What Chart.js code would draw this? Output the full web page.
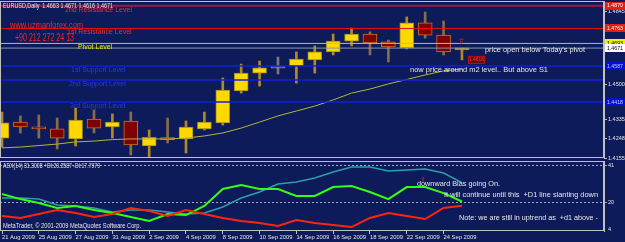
<!DOCTYPE html>
<html>
<head>
<meta charset="utf-8">
<script src="https://cdn.jsdelivr.net/npm/chart.js@4.4.0/dist/chart.umd.min.js"></script>
<style>
  html, body { margin: 0; padding: 0; background: #0e1b5a; }
  #wrap { position: relative; width: 625px; height: 242px; overflow: hidden; background: #0e1b5a; }
  #price { position: absolute; left: 0; top: 0; }
  #adx { position: absolute; left: 0; top: 160px; }
</style>
</head>
<body>
<div id="wrap">
  <canvas id="price" width="625" height="160"></canvas>
  <canvas id="adx" width="625" height="82"></canvas>
</div>
<script>
// EURUSD daily bars, 21 Aug - 25 Sep 2009
const dates = ["21 Aug 2009", "24 Aug 2009", "25 Aug 2009", "26 Aug 2009", "27 Aug 2009", "28 Aug 2009",
    "31 Aug 2009", "1 Sep 2009", "2 Sep 2009", "3 Sep 2009", "4 Sep 2009", "7 Sep 2009", "8 Sep 2009",
    "9 Sep 2009", "10 Sep 2009", "11 Sep 2009", "14 Sep 2009", "15 Sep 2009", "16 Sep 2009", "17 Sep 2009",
    "18 Sep 2009", "21 Sep 2009", "22 Sep 2009", "23 Sep 2009", "24 Sep 2009", "25 Sep 2009"];
const opens  = [1.4249, 1.4324, 1.4301, 1.4292, 1.4245, 1.4338, 1.4301, 1.4329, 1.4212, 1.4249, 1.4245, 1.4292, 1.4320,
    1.4470, 1.4554, 1.4578, 1.4587, 1.4615, 1.4653, 1.4704, 1.4737, 1.4700, 1.4672, 1.4789, 1.4732, 1.4663];
const highs  = [1.4371, 1.4353, 1.4357, 1.4343, 1.4390, 1.4381, 1.4362, 1.4371, 1.4287, 1.4343, 1.4329, 1.4371, 1.4531,
    1.4596, 1.4610, 1.4629, 1.4653, 1.4681, 1.4737, 1.4765, 1.4747, 1.4709, 1.4817, 1.4840, 1.4798, 1.4671];
const lows   = [1.4207, 1.4273, 1.4249, 1.4198, 1.4212, 1.4273, 1.4249, 1.4170, 1.4160, 1.4226, 1.4179, 1.4287, 1.4310,
    1.4460, 1.4493, 1.4550, 1.4507, 1.4554, 1.4639, 1.4681, 1.4639, 1.4606, 1.4667, 1.4718, 1.4639, 1.4616];
const closes = [1.4320, 1.4301, 1.4292, 1.4249, 1.4334, 1.4296, 1.4324, 1.4217, 1.4253, 1.4242, 1.4301, 1.4324, 1.4474,
    1.4554, 1.4578, 1.4577, 1.4620, 1.4653, 1.4704, 1.4737, 1.4695, 1.4676, 1.4789, 1.4732, 1.4653, 1.4671];
const movingAvg = [1.4203, 1.4207, 1.4214, 1.4221, 1.4231, 1.4235, 1.4242, 1.4245, 1.4245, 1.4245, 1.4249, 1.4259, 1.4273,
    1.4296, 1.4324, 1.4353, 1.4376, 1.4399, 1.4428, 1.4460, 1.4479, 1.4503, 1.4524, 1.4545, 1.4564, 1.4573];

// pivot levels drawn on the chart
const levelNames  = ["2nd Resistance Level", "1st Resistance Level", "Pivot Level",
    "1st Support Level", "2nd Support Level", "3rd Support Level"];
const levelValues = [1.4870, 1.4763, 1.4693, 1.4587, 1.4521, 1.4418];
const bidPrice = 1.4671;

// ADX(14) window
const adxValues = [22.3, 22.3, 21.7, 18.3, 17.7, 16.5, 14.2, 15.3, 15.3, 14.2, 13.0, 13.6, 17.1,
    22.3, 25.8, 30.5, 31.7, 34.0, 37.5, 40.4, 40.4, 38.1, 38.7, 39.2, 36.9, 31.3];
const plusDI  = [24.7, 21.7, 19.4, 16.5, 17.7, 15.3, 13.6, 11.3, 8.9, 13.0, 12.4, 17.7, 27.6,
    29.9, 27.6, 27.6, 23.5, 23.5, 28.7, 29.3, 25.8, 21.7, 28.7, 28.7, 25.2, 20.3];
const minusDI = [11.8, 10.7, 13.0, 15.3, 13.6, 11.3, 13.0, 16.5, 14.8, 11.8, 15.3, 13.0, 10.7,
    8.9, 7.8, 6.0, 9.5, 7.8, 6.6, 5.4, 10.7, 13.6, 11.8, 10.1, 16.5, 17.8];

// axis labels
const priceTicks = [1.4155, 1.4248, 1.4335, 1.4420, 1.4500, 1.4590, 1.4675, 1.4760, 1.4845];
const adxTicks = [4, 20, 41];
const dateLabels = ["21 Aug 2009", "25 Aug 2009", "27 Aug 2009", "31 Aug 2009", "2 Sep 2009", "4 Sep 2009",
    "8 Sep 2009", "10 Sep 2009", "14 Sep 2009", "16 Sep 2009", "18 Sep 2009", "22 Sep 2009", "24 Sep 2009"];

const FONT = '"Liberation Sans", Arial, sans-serif';
const FRAME = "#c0c0c0";
const X_MIN = -0.109, X_MAX = 32.72;

Chart.defaults.animation = false;
Chart.defaults.font.family = FONT;
Chart.defaults.color = "#e6e6e6";

function drawText(ctx, text, x, y, color, size, width) {
    ctx.save();
    ctx.font = size + "px " + FONT;
    ctx.fillStyle = color;
    ctx.textBaseline = "middle";
    ctx.textAlign = "left";
    const w = ctx.measureText(text).width;
    ctx.translate(x, y);
    ctx.scale(width ? width / w : 1, 1);
    ctx.fillText(text, 0, 0);
    ctx.restore();
}

function frame(chart) {
    const a = chart.chartArea;
    const ctx = chart.ctx;
    ctx.save();
    ctx.strokeStyle = FRAME;
    ctx.lineWidth = 1;
    ctx.strokeRect(a.left + 0.5, a.top + 0.5, a.right - a.left - 1, a.bottom - a.top - 1);
    ctx.restore();
}

function candleKind(i) {
    const d = closes[i] - opens[i];
    if (Math.abs(d) < 0.0002) return "doji";
    return d > 0 ? "up" : "down";
}

const bodyFill   = { up: "#ffd800", down: "#7e0000", doji: "#808080" };
const bodyBorder = { up: "#9c8a2a", down: "#d07020", doji: "#808080" };
const wickColor  = { up: "#b08a28", down: "#8c6a48", doji: "#7a7a7a" };

const levelStyle = [
    { line: "#a0183c", width: 2,   text: "#ff2828", box: "#e02010", boxText: "#ffffff", labelX: 65 },
    { line: "#e41010", width: 1,   text: "#ff2828", box: "#e02010", boxText: "#ffffff", labelX: 67 },
    { line: "#c8c830", width: 1,   text: "#e8e800", box: "#f0f000", boxText: "#000000", labelX: 78 },
    { line: "#1020d8", width: 1.5, text: "#2038ff", box: "#0010d0", boxText: "#c8c8ff", labelX: 71 },
    { line: "#1020d8", width: 1.5, text: "#2038ff", box: null,      boxText: null,      labelX: 69 },
    { line: "#1020d8", width: 1.5, text: "#2038ff", box: "#0010d0", boxText: "#c8c8ff", labelX: 70 }
];

const levelSets = levelValues.map((v, i) => ({
    type: "line",
    data: [{ x: X_MIN, y: v }, { x: X_MAX, y: v }],
    borderColor: levelStyle[i].line,
    borderWidth: levelStyle[i].width,
    pointRadius: 0,
    order: 0
}));

const priceOverlay = {
    id: "priceOverlay",
    afterDraw(chart) {
        const ctx = chart.ctx;
        const xs = chart.scales.x;
        const ys = chart.scales.y;
        frame(chart);

        drawText(ctx, "EURUSD,Daily  1.4663 1.4671 1.4616 1.4671", 3, 6, "#e8e8e8", 7, 110);
        levelValues.forEach((v, i) => {
            drawText(ctx, levelNames[i], levelStyle[i].labelX, ys.getPixelForValue(v) + 4, levelStyle[i].text, 7);
        });
        drawText(ctx, "www.uzmanforex.com", 10, 26, "#ff2020", 9, 73);
        drawText(ctx, "+90 212 272 24 13", 15, 38, "#ff2020", 10, 59);
        drawText(ctx, "price open below Today's pivot", 485, 50, "#e6e6e6", 8, 100);
        drawText(ctx, "now price around m2 level.. But above S1", 410, 70, "#e6e6e6", 8, 138);

        // marker above today's bar and low label
        const last = dates.length - 1;
        const bx = xs.getPixelForValue(last);
        drawText(ctx, "\u21E7", bx - 4, ys.getPixelForValue(levelValues[2]) - 2, "#ff2020", 8);
        const ly = ys.getPixelForValue(lows[last]);
        ctx.save();
        ctx.fillStyle = "#5a0810";
        ctx.strokeStyle = "#c01010";
        ctx.fillRect(bx + 6, ly - 4, 17, 8);
        ctx.strokeRect(bx + 6.5, ly - 3.5, 16, 7);
        ctx.restore();
        drawText(ctx, lows[last].toFixed(4), bx + 7, ly, "#ff4040", 5.5, 15);

        // price boxes on the right axis
        const boxes = [];
        levelValues.forEach((v, i) => {
            if (levelStyle[i].box) boxes.push({ v, bg: levelStyle[i].box, fg: levelStyle[i].boxText });
        });
        boxes.push({ v: bidPrice, bg: "#ffffff", fg: "#000000" });
        boxes.forEach(b => {
            const y = ys.getPixelForValue(b.v);
            ctx.save();
            ctx.fillStyle = b.bg;
            ctx.fillRect(605, Math.round(y) - 4, 20, 8);
            ctx.restore();
            drawText(ctx, b.v.toFixed(4), 607, y, b.fg, 5.5, 16);
        });
    }
};

new Chart(document.getElementById("price"), {
    type: "bar",
    data: {
        datasets: [
            ...levelSets,
            {
                type: "line",
                data: [{ x: X_MIN, y: bidPrice }, { x: X_MAX, y: bidPrice }],
                borderColor: "#8898a8",
                borderWidth: 1,
                pointRadius: 0,
                order: 0
            },
            {
                type: "line",
                data: movingAvg.map((v, i) => ({ x: i, y: v })),
                borderColor: "#b4b43a",
                borderWidth: 1,
                pointRadius: 0,
                order: 1
            },
            {
                data: dates.map((d, i) => ({ x: i, y: [opens[i], closes[i]] })),
                backgroundColor: dates.map((d, i) => bodyFill[candleKind(i)]),
                borderColor: dates.map((d, i) => bodyBorder[candleKind(i)]),
                borderWidth: 1,
                borderSkipped: false,
                barThickness: 14,
                minBarLength: 2,
                grouped: false,
                order: 2
            },
            {
                data: dates.map((d, i) => ({ x: i, y: [lows[i], highs[i]] })),
                backgroundColor: dates.map((d, i) => wickColor[candleKind(i)]),
                borderWidth: 0,
                barThickness: 2,
                grouped: false,
                order: 3
            }
        ]
    },
    options: {
        responsive: false,
        devicePixelRatio: 1,
        layout: { padding: { top: 1, bottom: 2, left: 0, right: 0 } },
        plugins: { legend: { display: false }, tooltip: { enabled: false } },
        scales: {
            x: { type: "linear", min: X_MIN, max: X_MAX, offset: false, display: false },
            y: {
                position: "right",
                min: 1.41556,
                max: 1.48919,
                afterBuildTicks: s => { s.ticks = priceTicks.map(v => ({ value: v })); },
                afterFit: s => { s.width = 21; s.paddingTop = 0; s.paddingBottom = 0; },
                ticks: {
                    autoSkip: false,
                    padding: 1,
                    color: "#e6e6e6",
                    font: { size: 5.5 },
                    callback: v => Number(v).toFixed(4)
                },
                grid: { drawOnChartArea: false, color: FRAME, tickLength: 3 },
                border: { color: FRAME }
            }
        }
    },
    plugins: [priceOverlay]
});

const adxOverlay = {
    id: "adxOverlay",
    afterDraw(chart) {
        const ctx = chart.ctx;
        frame(chart);
        drawText(ctx, "ADX(14) 31.3008 +DI:20.2587 -DI:17.7979", 3, 6, "#e6e6e6", 7, 97);
        drawText(ctx, "MetaTrader, \u00A9 2001-2009 MetaQuotes Software Corp.", 3, 66.5, "#e6e6e6", 7, 138);
        drawText(ctx, "downward Bias going On.", 417, 24, "#e6e6e6", 8, 83);
        drawText(ctx, "\u21E7", 420, 20, "#ff2020", 7);
        drawText(ctx, "It will continue until this  +D1 line slanting down", 444, 35, "#e6e6e6", 8, 154);
        drawText(ctx, "Note: we are still in uptrend as  +d1 above -", 459, 57.5, "#e6e6e6", 8, 139);
    }
};

new Chart(document.getElementById("adx"), {
    type: "line",
    data: {
        datasets: [
            { data: minusDI.map((v, i) => ({ x: i, y: v })), borderColor: "#ff2410", borderWidth: 2, pointRadius: 0, order: 0 },
            { data: plusDI.map((v, i) => ({ x: i, y: v })), borderColor: "#34ff10", borderWidth: 2, pointRadius: 0, order: 1 },
            { data: adxValues.map((v, i) => ({ x: i, y: v })), borderColor: "#2aa0a8", borderWidth: 1.5, pointRadius: 0, order: 2 }
        ]
    },
    options: {
        responsive: false,
        devicePixelRatio: 1,
        layout: { padding: { top: 1, bottom: 0, left: 0, right: 0 } },
        plugins: { legend: { display: false }, tooltip: { enabled: false } },
        scales: {
            x: {
                type: "linear",
                min: X_MIN,
                max: X_MAX,
                offset: false,
                afterBuildTicks: s => { s.ticks = dateLabels.map(d => ({ value: dates.indexOf(d) })); },
                afterFit: s => { s.height = 11; s.paddingLeft = 0; s.paddingRight = 0; },
                ticks: {
                    autoSkip: false,
                    maxRotation: 0,
                    align: "start",
                    padding: 0,
                    color: "#e6e6e6",
                    font: { size: 5.8 },
                    callback: v => dates[v]
                },
                grid: { drawOnChartArea: false, color: FRAME, tickLength: 3 },
                border: { display: false }
            },
            y: {
                position: "right",
                min: 3.1,
                max: 43.9,
                afterBuildTicks: s => { s.ticks = adxTicks.map(v => ({ value: v })); },
                afterFit: s => { s.width = 21; s.paddingTop = 0; s.paddingBottom = 0; },
                ticks: { autoSkip: false, padding: 1, color: "#e6e6e6", font: { size: 5.5 } },
                grid: {
                    color: c => (c.tick && c.tick.value === adxTicks[0]) ? "rgba(0,0,0,0)" : "#a8a8b0",
                    tickLength: 3
                },
                border: { color: FRAME, dash: [2, 2] }
            }
        }
    },
    plugins: [adxOverlay]
});
</script>
</body>
</html>
